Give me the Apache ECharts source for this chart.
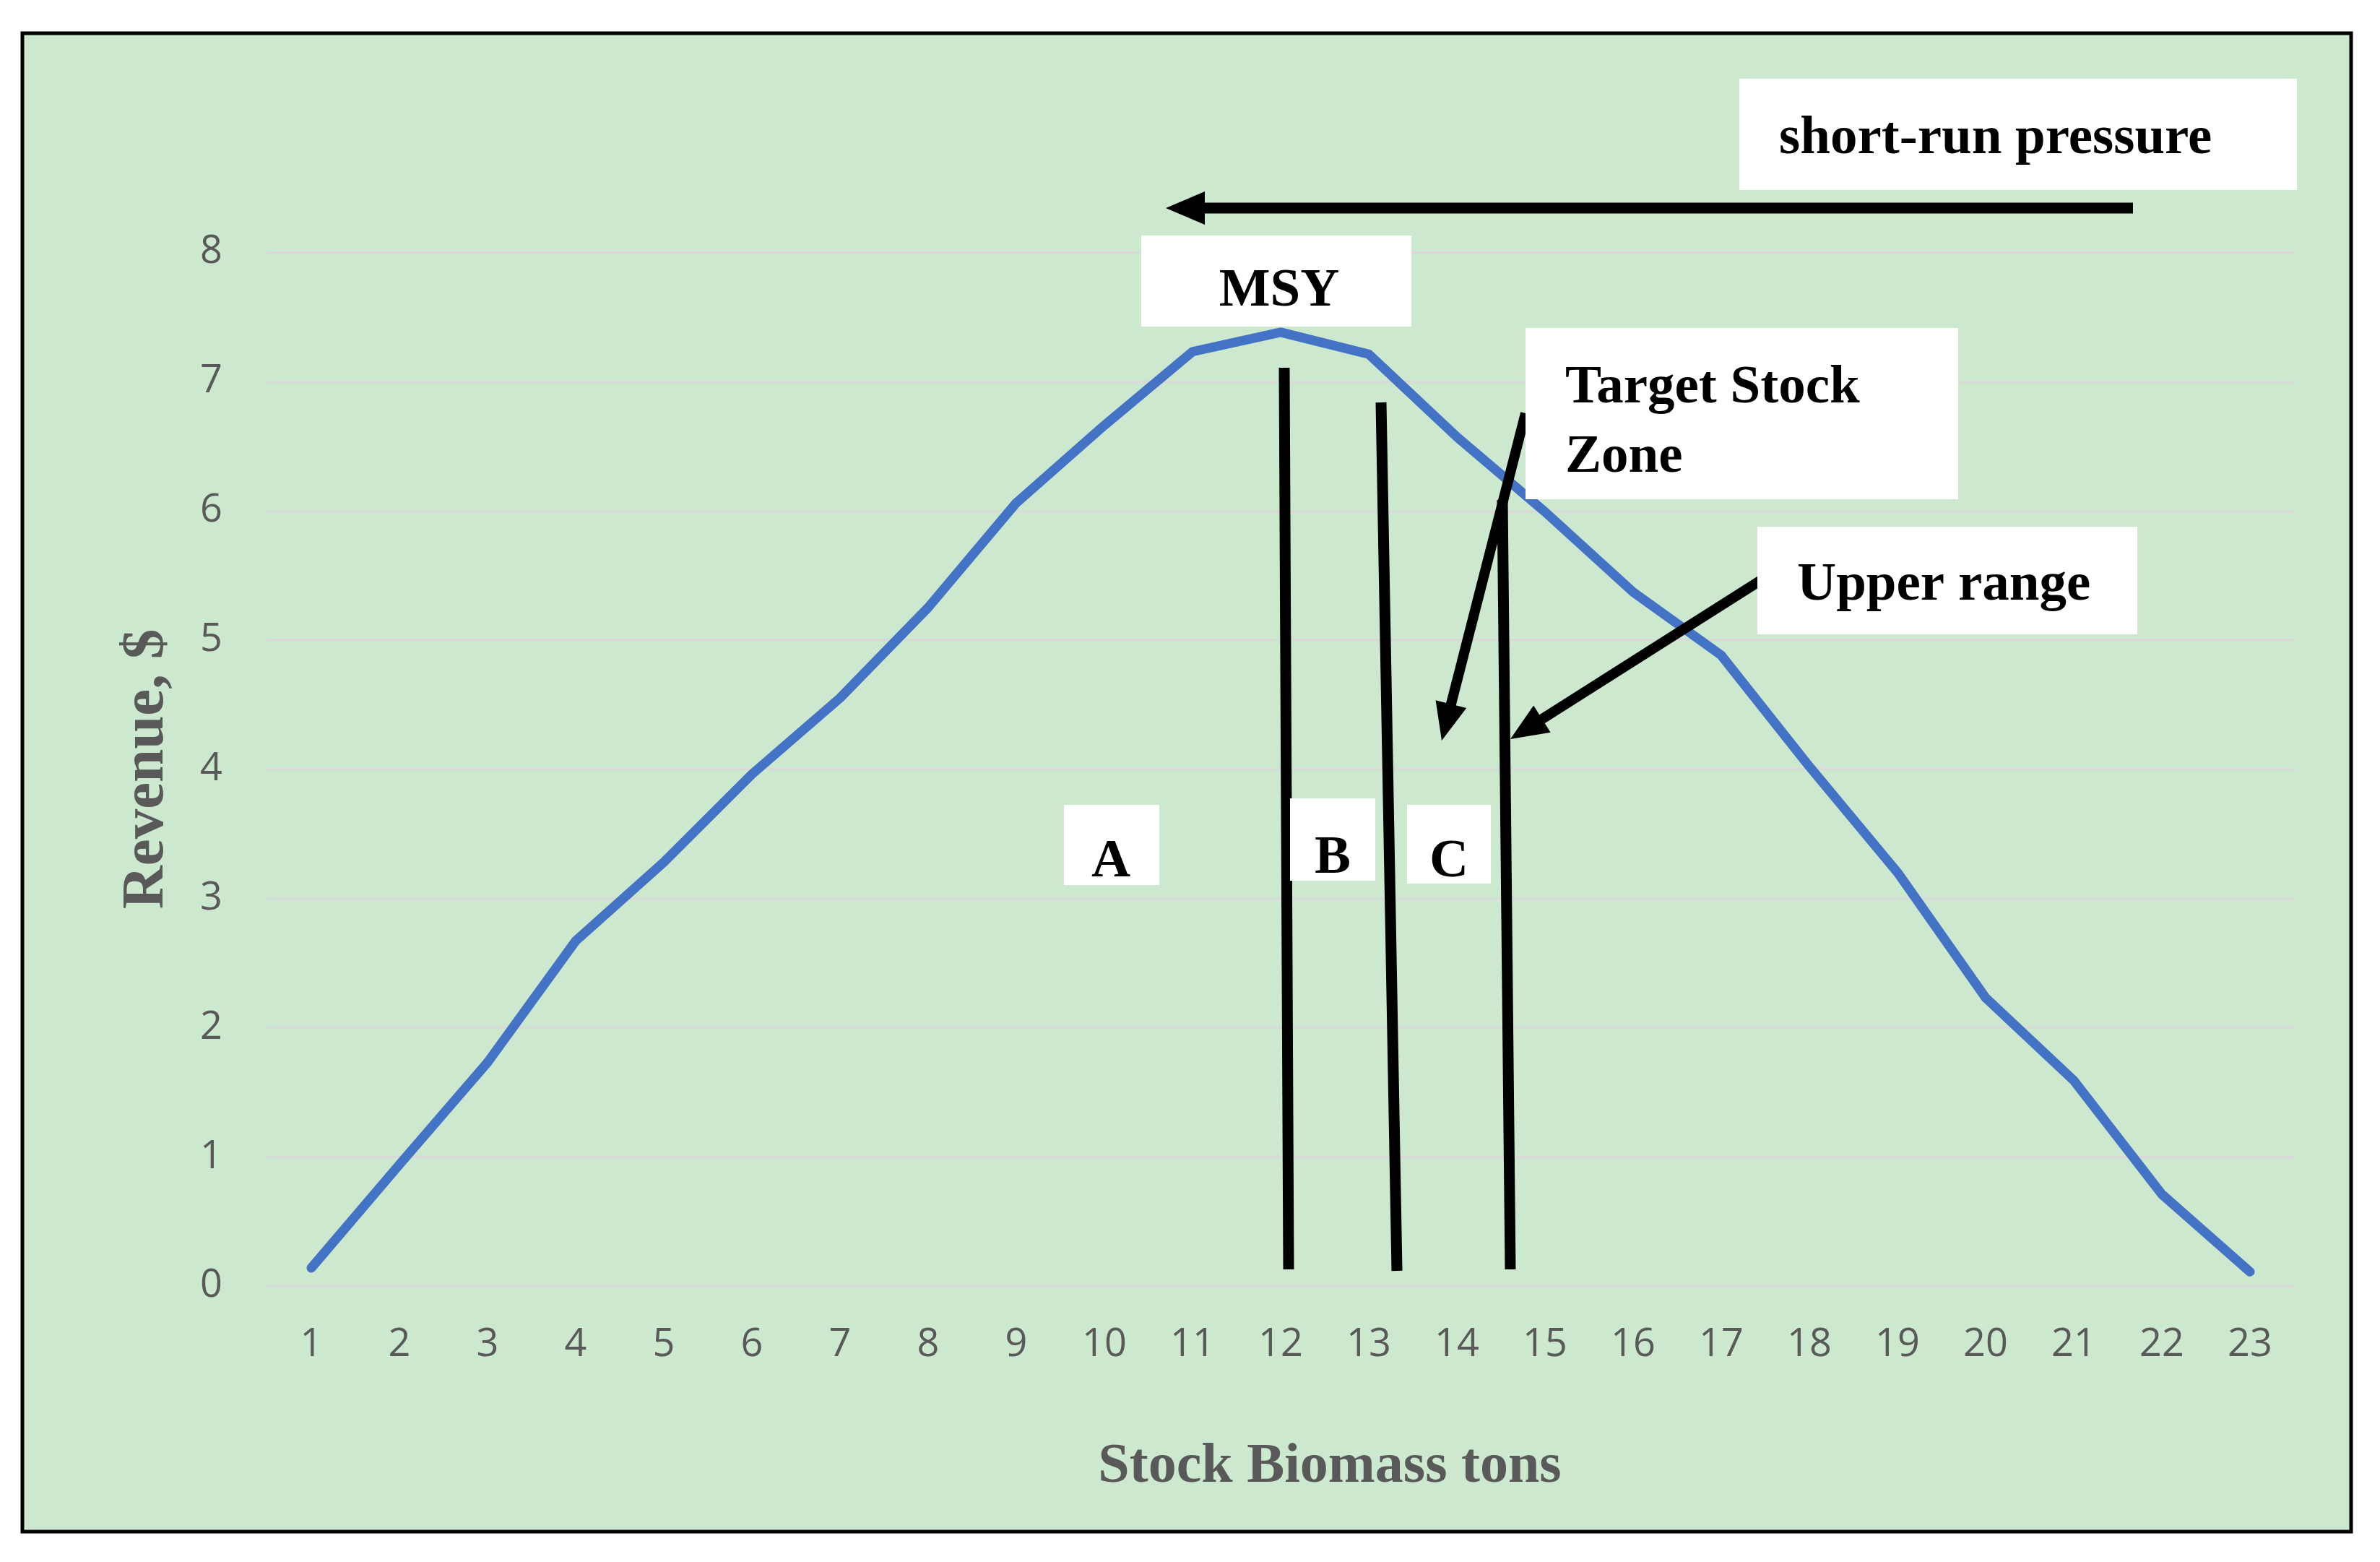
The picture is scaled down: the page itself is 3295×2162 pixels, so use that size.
<!DOCTYPE html>
<html>
<head>
<meta charset="utf-8">
<title>Revenue vs Stock Biomass</title>
<script src="https://cdn.jsdelivr.net/npm/echarts@6/dist/echarts.min.js"></script>
<style>
  html, body { margin: 0; padding: 0; background: #ffffff; }
  #chart { width: 3295px; height: 2162px; }
</style>
</head>
<body>
<div id="chart"></div>
<script>
// data
var biomass = ['1', '2', '3', '4', '5', '6', '7', '8', '9', '10', '11', '12',
  '13', '14', '15', '16', '17', '18', '19', '20', '21', '22', '23'];
var revenue = [0.14, 0.94, 1.73, 2.67, 3.28, 3.96, 4.55, 5.25, 6.06, 6.66, 7.23, 7.38,
  7.21, 6.57, 5.99, 5.37, 4.88, 4.02, 3.20, 2.23, 1.59, 0.71, 0.11];
var yMin = 0, yMax = 8, yStep = 1;

var serif = '"Liberation Serif", "DejaVu Serif", serif';
var sans = '"Open Sans", "Noto Sans", sans-serif';
var gray = '#595959';

// annotation shapes (pixel positions of the hand drawn overlay)
function arrow(x0, y0, x1, y1, w, headLen, headW) {
  var dx = x1 - x0, dy = y1 - y0, len = Math.sqrt(dx * dx + dy * dy);
  var ux = dx / len, uy = dy / len, nx = -uy, ny = ux;
  var bx = x1 - ux * headLen, by = y1 - uy * headLen;
  return [
    { type: 'line', z: 100, shape: { x1: x0, y1: y0, x2: bx + ux * 4, y2: by + uy * 4 },
      style: { stroke: '#000', lineWidth: w } },
    { type: 'polygon', z: 100,
      shape: { points: [[x1, y1], [bx + nx * headW, by + ny * headW], [bx - nx * headW, by - ny * headW]] },
      style: { fill: '#000' } }
  ];
}
function box(x, y, w, h) {
  return { type: 'rect', z: 101, shape: { x: x, y: y, width: w, height: h }, style: { fill: '#ffffff' } };
}
function label(text, x, y, align) {
  return { type: 'text', z: 102,
    style: { text: text, x: x, y: y, fill: '#000', align: align || 'center', verticalAlign: 'middle',
      font: 'bold 75px ' + serif } };
}
function stroke(x0, y0, x1, y1) {
  return { type: 'line', z: 100, shape: { x1: x0, y1: y0, x2: x1, y2: y1 },
    style: { stroke: '#000', lineWidth: 15 } };
}

var overlay = [
  { type: 'rect', z: -10, shape: { x: 31, y: 46, width: 3224, height: 2074 },
    style: { fill: '#CCE8CF', stroke: '#000', lineWidth: 5 } },
  stroke(1778, 509, 1784, 1757),
  stroke(1912, 557, 1934, 1759),
  stroke(2080, 692, 2091, 1757),
  box(2408, 109, 772, 154), label('short-run pressure', 2463, 193, 'left'),
  box(1580, 326, 374, 126), label('MSY', 1771, 404),
  box(2112, 454, 599, 237), label('Target Stock', 2167, 538, 'left'), label('Zone', 2167, 634, 'left'),
  box(2433, 729, 526, 149), label('Upper range', 2488, 811, 'left'),
  box(1473, 1114, 132, 111), label('A', 1538, 1194),
  box(1786, 1105, 118, 114), label('B', 1845, 1189),
  box(1948, 1114, 116, 109), label('C', 2006, 1194)
].concat(
  arrow(2953, 288, 1614, 288, 15, 54, 23),
  arrow(2112, 572, 1996, 1025, 14, 52, 22),
  arrow(2438, 803, 2091, 1023, 14, 52, 22)
);

var chart = echarts.init(document.getElementById('chart'));
chart.setOption({
  animation: false,
  backgroundColor: '#ffffff',
  grid: { left: 370, right: 119, top: 349, bottom: 382 },
  xAxis: {
    type: 'category',
    data: biomass,
    boundaryGap: true,
    name: 'Stock Biomass tons',
    nameLocation: 'middle',
    nameGap: 212,
    nameTextStyle: { color: gray, fontFamily: serif, fontWeight: 'bold', fontSize: 78, padding: [0, 0, 0, 136] },
    axisLine: { show: false },
    axisTick: { show: false },
    axisLabel: { color: gray, fontFamily: sans, fontSize: 54, margin: 55 }
  },
  yAxis: {
    type: 'value',
    min: yMin,
    max: yMax,
    interval: yStep,
    name: 'Revenue, $',
    nameLocation: 'middle',
    nameGap: 125,
    nameTextStyle: { color: gray, fontFamily: serif, fontWeight: 'bold', fontSize: 83 },
    axisLine: { show: false },
    axisTick: { show: false },
    axisLabel: { color: gray, fontFamily: sans, fontSize: 54, margin: 62 },
    splitLine: { lineStyle: { color: '#D9D9D9', width: 3 } }
  },
  series: [{
    type: 'line',
    data: revenue,
    symbol: 'none',
    silent: true,
    lineStyle: { color: '#4472C4', width: 13, cap: 'round', join: 'round' }
  }],
  graphic: { elements: overlay }
});
</script>
</body>
</html>
